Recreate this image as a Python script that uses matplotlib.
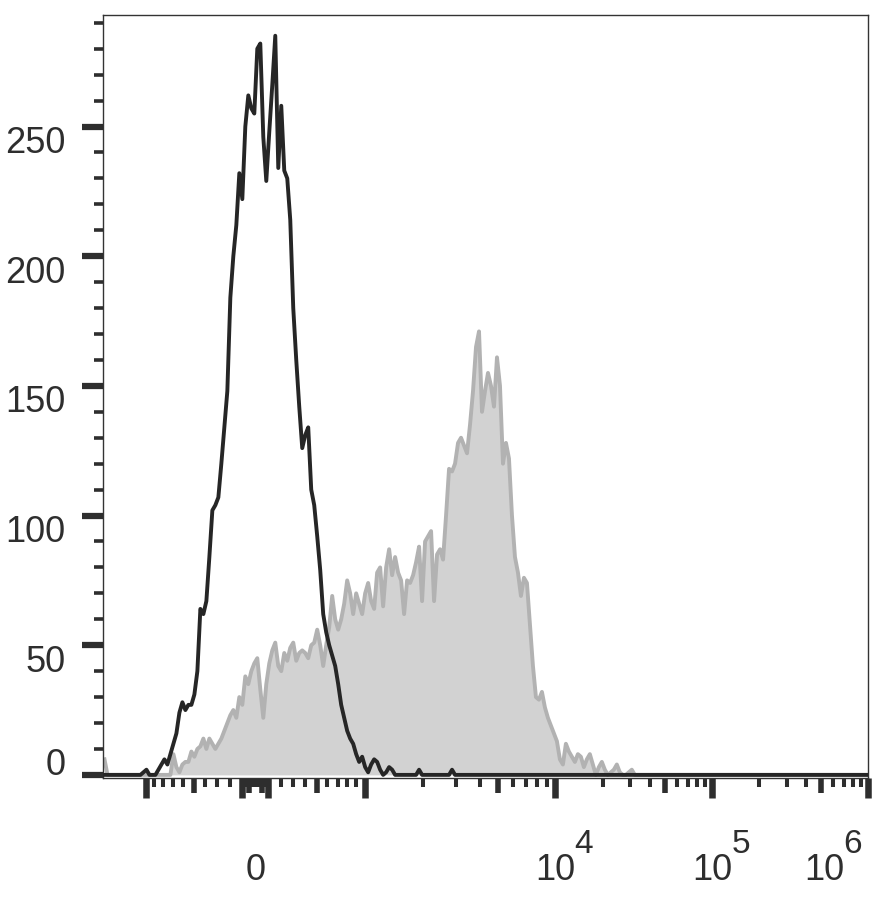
import numpy as np
import matplotlib.pyplot as plt

plt.rcParams['font.family'] = ['Liberation Sans', 'DejaVu Sans']

TXT = '#2e2e2e'

# histogram channels (256 bins on the display scale)
n_bins = 256
bin_width = 3.0

# isotype control, black outline; counts from channel 12 onward
ctrl_start = 12
ctrl_counts = [0, 1, 2, 0, 0, 0, 2, 4, 6, 4,
               8, 12, 16, 24, 28, 25, 27, 27, 31, 40,
               64, 62, 67, 84, 102, 104, 107, 120, 134, 148,
               184, 200, 212, 232, 222, 250, 262, 257, 255, 280,
               282, 246, 229, 248, 266, 285, 234, 258, 233, 230,
               214, 180, 160, 142, 126, 131, 134, 110, 104, 92,
               79, 62, 55, 50, 46, 42, 35, 27, 22, 17,
               14, 12, 8, 5, 7, 3, 1, 4, 6, 5,
               2, 0, 1, 3, 2, 0, 0, 0, 0, 0,
               0, 0, 0, 2, 0, 0, 0, 0, 0, 0,
               0, 0, 0, 0, 2, 0]

# stained sample, grey filled; counts from channel 22 onward
stain_start = 22
stain_first_channel = 6
stain_counts = [0, 8, 3, 1, 4, 5, 5, 9, 7, 10,
                11, 14, 10, 14, 12, 10, 12, 14, 17, 20,
                23, 25, 22, 30, 27, 38, 35, 40, 43, 45,
                33, 22, 35, 43, 48, 51, 42, 40, 47, 44,
                49, 51, 44, 47, 48, 47, 45, 50, 51, 56,
                50, 42, 50, 57, 69, 60, 56, 60, 66, 75,
                70, 62, 70, 66, 62, 70, 74, 67, 64, 78,
                80, 65, 80, 87, 77, 84, 78, 75, 62, 75,
                74, 77, 82, 88, 67, 90, 92, 94, 67, 85,
                87, 83, 100, 118, 117, 120, 128, 130, 127, 124,
                135, 148, 165, 171, 140, 148, 155, 150, 142, 161,
                150, 120, 128, 122, 100, 84, 78, 69, 76, 74,
                58, 42, 30, 29, 32, 26, 22, 19, 16, 13,
                6, 4, 12, 9, 7, 5, 8, 7, 3, 6,
                8, 4, 0, 3, 5, 2, 0, 1, 2, 4,
                1, 0, 0, 1, 2, 0]

y_major = [0, 50, 100, 150, 200, 250]
y_minor = list(range(10, 300, 10))

x_major = [-1e3, -100, 100, 1e3, 1e4, 1e5, 1e6]
x_medium = [-500, -50, 50, 500, 5e3, 5e4, 5e5]
x_minor_lin = [10, 20, 30, 40, 60, 70, 80, 90, 200, 300, 400, 600, 700, 800, 900]
x_minor_log = [k * 10.0 ** d for d in (3, 4, 5) for k in (2, 3, 4, 6, 7, 8, 9)]
x_labels = [(0, '0', None, 0), (1e4, '10', '4', 0), (1e5, '10', '5', 0), (1e6, '10', '6', -31.3)]


def biex(v):
    # biexponential display: arcsinh around zero, log decades above 10^3
    v = np.asarray(v, dtype=float)
    a = np.abs(v)
    lin = 105.7 * np.arcsinh(a / 813.0)
    lg = np.interp(np.log10(np.maximum(a, 1e3)), [3, 4, 5, 6], [110.5, 300.5, 457.5, 613.5])
    return 152.5 + np.sign(v) * np.where(a <= 1e3, lin, lg)


ctrl = np.zeros(n_bins)
ctrl[ctrl_start:ctrl_start + len(ctrl_counts)] = ctrl_counts
stain = np.zeros(n_bins)
stain[stain_start:stain_start + len(stain_counts)] = stain_counts
stain[0] = stain_first_channel
chan = bin_width * (np.arange(n_bins) + 0.5)

fig = plt.figure(figsize=(8.83, 8.97), dpi=100)
ax = fig.add_axes([103 / 883, 119 / 897, 765 / 883, 763 / 897])

ax.fill_between(chan, stain, 0, color='#d2d2d2', lw=0, zorder=1)
ax.plot(chan, stain, color='#b2b2b2', lw=2.8, zorder=2)
ax.plot(chan, ctrl, color='#262626', lw=2.8, zorder=3)

ax.set_xlim(0, float(biex(1e6)))
ax.set_ylim(-1.2, 293)

for s in ax.spines.values():
    s.set_linewidth(1.0)
    s.set_color('#333333')

ax.set_yticks(y_major)
ax.set_yticks(y_minor, minor=True)
ax.set_yticklabels([])
ax.tick_params(axis='y', which='major', length=15, width=4.5, color=TXT, direction='out')
ax.tick_params(axis='y', which='minor', length=6.5, width=2.6, color=TXT, direction='out')

minors = [s * v for v in x_minor_lin for s in (-1, 1)] + x_minor_log
ax.set_xticks(biex(x_major))
ax.set_xticks(biex(minors), minor=True)
ax.set_xticklabels([])
ax.tick_params(axis='x', which='major', length=14.4, width=4.7, color=TXT, direction='out')
ax.tick_params(axis='x', which='minor', length=6.3, width=2.9, color=TXT, direction='out')

sec = ax.secondary_xaxis('bottom')
sec.set_xticks(biex(x_medium))
sec.set_xticklabels([])
sec.tick_params(axis='x', length=10.8, width=4.0, color=TXT, direction='out')
sec.spines['bottom'].set_visible(False)

for v in y_major:
    dy = 0 if v == 0 else -19
    ax.annotate(str(v), xy=(0, v), xycoords=('axes fraction', 'data'),
                xytext=(-27, dy), textcoords='offset points',
                ha='right', va='baseline', fontsize=26, color=TXT)

for v, base, expo, dx in x_labels:
    x = float(biex(v))
    ax.annotate(base, xy=(x, 0), xycoords=('data', 'axes fraction'),
                xytext=(dx, -73.4), textcoords='offset points',
                ha='center', va='baseline', fontsize=26, color=TXT)
    if expo:
        ax.annotate(expo, xy=(x, 0), xycoords=('data', 'axes fraction'),
                    xytext=(dx + 13.7, -54), textcoords='offset points',
                    ha='left', va='baseline', fontsize=24, color=TXT)

plt.savefig('out.png', dpi=100, facecolor='w')
